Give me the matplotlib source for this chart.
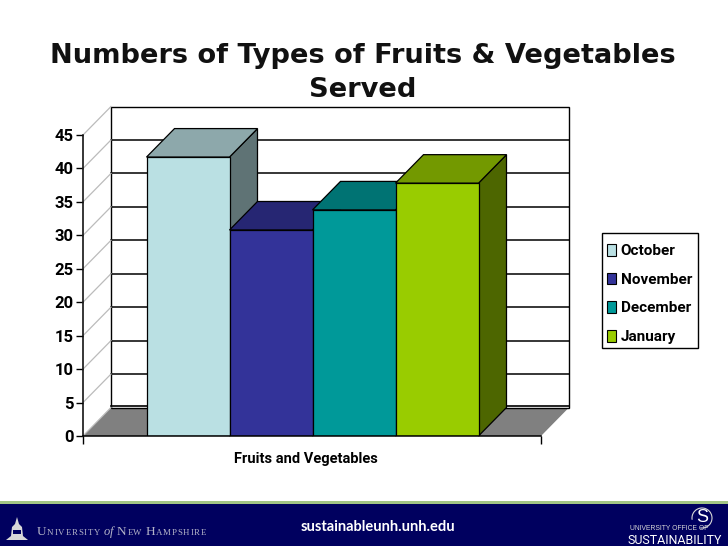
#!/usr/bin/env python3
"""
Recreate the fruits and vegetables 3D column slide.
"""

import matplotlib
matplotlib.use('Agg')
import matplotlib.pyplot as plt
from matplotlib.patches import Polygon, Rectangle, Arc, Patch

# Data
months = ['October', 'November', 'December', 'January']
values = [41.7, 30.8, 33.8, 37.8]
y_ticks = [0, 5, 10, 15, 20, 25, 30, 35, 40, 45]
category = 'Fruits and Vegetables'
title_lines = ['Numbers of Types of Fruits & Vegetables', 'Served']

# Colors
front_colors = ['#BAE0E3', '#333399', '#009999', '#99CC00']
top_colors = ['#8DA8AB', '#262673', '#007373', '#739900']
side_colors = ['#5F7375', '#1A1A4D', '#004D4D', '#4D6600']

W, H = 728, 546
LABEL_FONT = 'Roboto'
NAVY = '#00005F'

fig = plt.figure(figsize=(W / 100, H / 100), dpi=100, facecolor='white')

# Slide layer in pixel coordinates (footer band and logos)
bg = fig.add_axes([0, 0, 1, 1], zorder=0)
bg.set_xlim(0, W)
bg.set_ylim(H, 0)
bg.axis('off')
bg.add_patch(Rectangle((0, 501), W, 3.5, color='#A3C585', lw=0))
bg.add_patch(Rectangle((0, 504), W, 42, color=NAVY, lw=0))

# Plot box: x is in bar widths, y in chart units
px_left, px_right, px_bottom, px_top = 83, 541, 436, 135
ax = fig.add_axes([px_left / W, 1 - px_bottom / H,
                   (px_right - px_left) / W, (px_bottom - px_top) / H], zorder=1)
bar_w_px = 83
xmax = (px_right - px_left) / bar_w_px
ax.set_xlim(0, xmax)
ax.set_ylim(0, 45)
ax.patch.set_alpha(0)
dx = 28 / bar_w_px
dy = 28.5 * 45 / (px_bottom - px_top)
x0 = (146.5 - px_left) / bar_w_px

# Floor and walls
ax.add_patch(Polygon([(0, 0), (dx, dy), (xmax + dx, dy), (xmax, 0)], closed=True,
                     facecolor='#808080', edgecolor='none', clip_on=False, zorder=1))
ax.add_patch(Rectangle((dx, dy), xmax, 45, facecolor='white', edgecolor='black',
                       lw=1.0, clip_on=False, zorder=1))
ax.plot([dx, xmax + dx], [dy + 0.25, dy + 0.25], color='black', lw=1.2, clip_on=False, zorder=2)

# Gridlines along back wall and side wall
for t in y_ticks[1:-1]:
    ax.plot([dx, xmax + dx], [t + dy, t + dy], color='black', lw=1.1, clip_on=False, zorder=2)
for t in y_ticks:
    ax.plot([0, dx], [t, t + dy], color='#BBBBBB', lw=0.9, clip_on=False, zorder=2)

# Bars, left to right so each one covers the depth faces of the one before
handles = []
for i, (m, v) in enumerate(zip(months, values)):
    x = x0 + i
    z = 3 + i
    ax.add_patch(Polygon([(x + 1, 0), (x + 1 + dx, dy), (x + 1 + dx, v + dy), (x + 1, v)],
                         closed=True, facecolor=side_colors[i], edgecolor='black', lw=0.9,
                         clip_on=False, zorder=z))
    ax.add_patch(Polygon([(x, v), (x + dx, v + dy), (x + 1 + dx, v + dy), (x + 1, v)],
                         closed=True, facecolor=top_colors[i], edgecolor='black', lw=0.9,
                         clip_on=False, zorder=z))
    ax.bar(x, v, width=1, align='edge', color=front_colors[i], edgecolor='black',
           linewidth=0.9, zorder=z)
    handles.append(Patch(facecolor=front_colors[i], edgecolor='black', linewidth=0.8, label=m))

# Axes
for s in ['top', 'right']:
    ax.spines[s].set_visible(False)
for s in ['left', 'bottom']:
    ax.spines[s].set_linewidth(1.1)
    ax.spines[s].set_zorder(10)
ax.set_yticks(y_ticks)
ax.set_yticklabels([str(t) for t in y_ticks], family=LABEL_FONT, fontweight='bold', fontsize=12)
ax.tick_params(axis='y', length=5, width=1.0, pad=2)
ax.set_xticks([0, xmax])
ax.set_xticklabels(['', ''])
ax.tick_params(axis='x', length=6, width=1.0)
ax.set_xlabel(category, family=LABEL_FONT, fontweight='bold', fontsize=10.5)
ax.xaxis.set_label_coords((305.5 - px_left) / (px_right - px_left), -0.052)

# Legend: the frame is not symmetric around the entries, so it is drawn apart
bg.add_patch(Rectangle((601.5, 233), 96.5, 115, facecolor='white', edgecolor='black', lw=1.0))
leg = fig.legend(handles=handles, loc='upper left',
                 bbox_to_anchor=(601.5 / W, 1 - 238.5 / H), bbox_transform=fig.transFigure,
                 prop={'family': LABEL_FONT, 'weight': 'bold', 'size': 11},
                 frameon=False, labelspacing=0.95,
                 handlelength=0.62, handleheight=0.8, handletextpad=0.28,
                 borderpad=0.35, borderaxespad=0)

# Title
fig.text(363 / W, 1 - 56 / H, title_lines[0], ha='center', va='center', family='DejaVu Sans',
         fontweight='bold', fontsize=19.6, color='#111111')
fig.text(363 / W, 1 - 90 / H, title_lines[1], ha='center', va='center', family='DejaVu Sans',
         fontweight='bold', fontsize=19.6, color='#111111')

# Footer: tower icon
bg.add_patch(Polygon([(6, 540), (28, 540), (23, 536), (22, 527), (19, 524), (17, 517), (15, 524),
                      (12, 527), (11, 536)], closed=True, facecolor='#D8D8D8', edgecolor='none'))
bg.add_patch(Rectangle((13, 530), 8, 4, color=NAVY, lw=0))

# Footer: university name in small caps, built from runs
x = 37
for txt, size, style, gap in [('U', 9.5, 'normal', 0.7), ('NIVERSITY', 6.4, 'normal', 0.75),
                              ('of', 9, 'italic', 0.3), ('N', 9.5, 'normal', 0.7),
                              ('EW', 6.4, 'normal', 0.75), ('H', 9.5, 'normal', 0.7),
                              ('AMPSHIRE', 6.4, 'normal', 0.75)]:
    for ch in txt:
        t = bg.text(x, 535, ch, family='Liberation Serif', fontsize=size, style=style,
                    color='#B4B4C8', va='baseline', ha='left')
        x += t.get_window_extent(fig.canvas.get_renderer()).width + gap
    if txt in ('NIVERSITY', 'of', 'EW'):
        x += 3

bg.text(378, 527, 'sustainableunh.unh.edu', family='Lato', fontweight='bold', fontsize=10.5,
        color='white', ha='center', va='center')

# Footer: sustainability logo
bg.add_patch(Arc((702, 518), 20, 20, theta1=170, theta2=100, edgecolor='#D8D8D8', lw=0.8))
bg.text(702, 518, 'S', family='Liberation Sans', fontsize=13, color='white', ha='center', va='center')
bg.text(630, 529, 'UNIVERSITY OFFICE OF', family='Liberation Sans', fontsize=4.9, color='#D8D8D8',
        ha='left', va='center')
bg.text(628, 540, 'SUSTAINABILITY', family='Roboto', fontsize=8.9, color='white', ha='left', va='center')

fig.savefig('out.png', dpi=100, facecolor='white')
